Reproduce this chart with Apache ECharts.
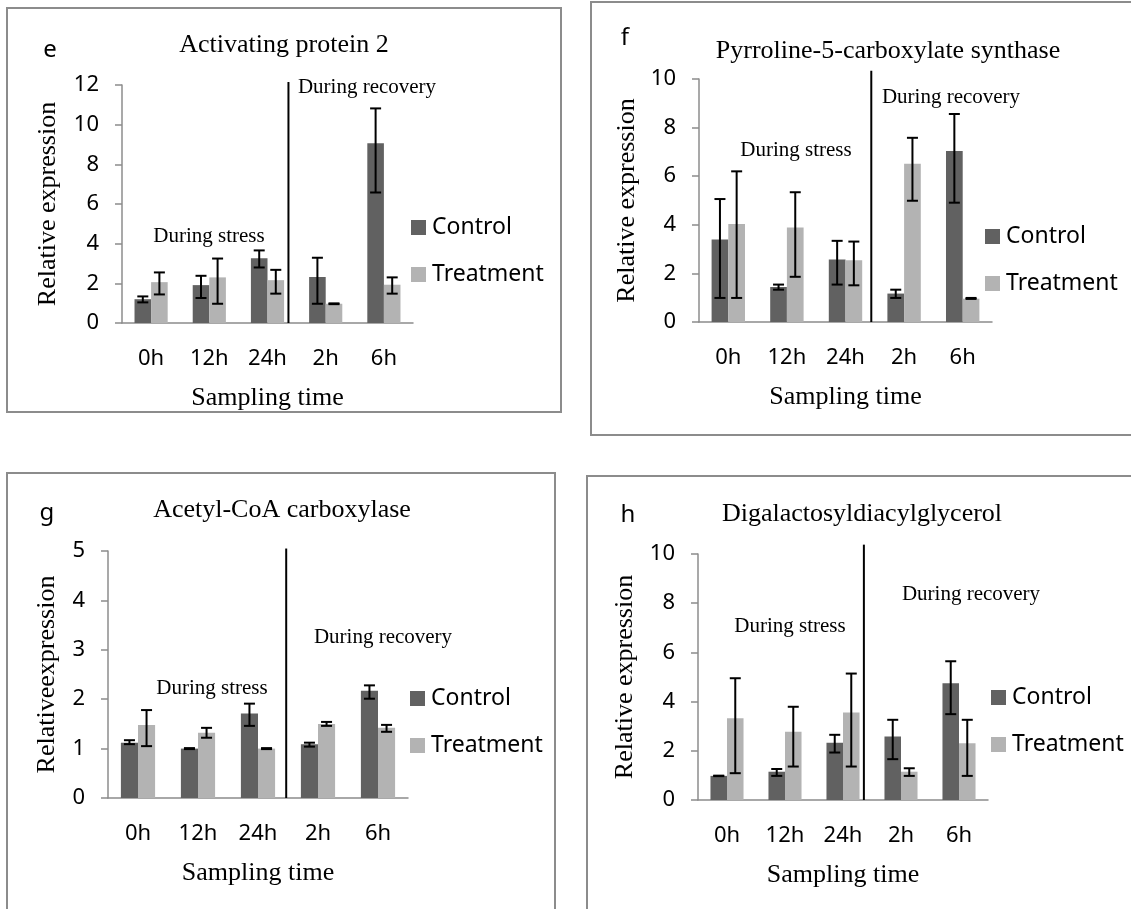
<!DOCTYPE html>
<html>
<head>
<meta charset="utf-8">
<script src="https://cdn.jsdelivr.net/npm/echarts@6/dist/echarts.min.js"></script>
<style>
html,body{margin:0;padding:0;background:#fff;}
#chart{width:1131px;height:909px;}
</style>
</head>
<body>
<div id="chart"></div>
<script>
// ---------- data ----------
const categories = ['0h', '12h', '24h', '2h', '6h'];
const seriesNames = ['Control', 'Treatment'];

// Panel e: Activating protein 2
const eControl     = [1.20, 1.91, 3.27, 2.32, 9.06];
const eControlLow  = [1.04, 1.26, 2.80, 0.97, 6.58];
const eControlHigh = [1.34, 2.38, 3.66, 3.29, 10.82];
const eTreat       = [2.06, 2.30, 2.16, 0.97, 1.93];
const eTreatLow    = [1.44, 0.97, 1.48, 0.95, 1.48];
const eTreatHigh   = [2.55, 3.25, 2.68, 0.99, 2.30];

// Panel f: Pyrroline-5-carboxylate synthase
const fControl     = [3.40, 1.44, 2.57, 1.17, 7.04];
const fControlLow  = [0.99, 1.33, 1.54, 0.99, 4.91];
const fControlHigh = [5.06, 1.54, 3.34, 1.33, 8.56];
const fTreat       = [4.03, 3.89, 2.54, 6.51, 0.96];
const fTreatLow    = [0.99, 1.86, 1.51, 4.99, 0.95];
const fTreatHigh   = [6.20, 5.34, 3.31, 7.58, 0.99];

// Panel g: Acetyl-CoA carboxylase
const gControl     = [1.12, 1.00, 1.71, 1.09, 2.17];
const gControlLow  = [1.09, 0.99, 1.46, 1.04, 2.01];
const gControlHigh = [1.17, 1.01, 1.91, 1.12, 2.28];
const gTreat       = [1.48, 1.32, 1.00, 1.50, 1.42];
const gTreatLow    = [1.05, 1.22, 0.99, 1.46, 1.34];
const gTreatHigh   = [1.78, 1.42, 1.01, 1.54, 1.48];

// Panel h: Digalactosyldiacylglycerol
const hControl     = [0.98, 1.15, 2.33, 2.58, 4.75];
const hControlLow  = [0.97, 0.98, 1.93, 1.66, 3.49];
const hControlHigh = [0.99, 1.26, 2.65, 3.26, 5.64];
const hTreat       = [3.32, 2.77, 3.56, 1.15, 2.31];
const hTreatLow    = [1.09, 1.36, 1.36, 0.98, 0.98];
const hTreatHigh   = [4.95, 3.79, 5.14, 1.29, 3.26];

// y-axis ranges / ticks
const yMax      = [12, 10, 5, 10];
const yInterval = [2, 2, 1, 2];

// divider (category units, 0..5) and its top value
const dividerX   = [2.86, 2.94, 2.97, 2.86];
const dividerTop = [12.15, 10.34, 5.05, 10.38];

// texts
const panelLetters = ['e', 'f', 'g', 'h'];
const panelTitles = ['Activating protein 2', 'Pyrroline-5-carboxylate synthase', 'Acetyl-CoA carboxylase', 'Digalactosyldiacylglycerol'];
const yNames = ['Relative expression', 'Relative expression', 'Relativeexpression', 'Relative expression'];
const xName = 'Sampling time';
const stressText = 'During stress';
const recoveryText = 'During recovery';

// ---------- layout (pixels) ----------
const layout = [
  {grid:{left:122, top:85, width:291, height:238}, box:[7,8,554,404], letter:[50,50], title:[284,45],
   stress:[209,236], recov:[367,87], legend:[411,216], yGap:61},
  {grid:{left:699, top:79, width:293, height:243}, box:[591,2,600,433], letter:[625,38], title:[888,51],
   stress:[796,150], recov:[951,97], legend:[985,225], yGap:59},
  {grid:{left:108, top:551, width:300, height:247}, box:[7,473,548,500], letter:[47,513], title:[282,510],
   stress:[212,688], recov:[383,637], legend:[410,687], yGap:48},
  {grid:{left:698, top:554, width:290, height:246}, box:[587,476,600,500], letter:[628,515], title:[862,514],
   stress:[790,626], recov:[971,594], legend:[991,686], yGap:60}
];

const panelData = [
  [eControl, eControlLow, eControlHigh, eTreat, eTreatLow, eTreatHigh],
  [fControl, fControlLow, fControlHigh, fTreat, fTreatLow, fTreatHigh],
  [gControl, gControlLow, gControlHigh, gTreat, gTreatLow, gTreatHigh],
  [hControl, hControlLow, hControlHigh, hTreat, hTreatLow, hTreatHigh]
];

const SANS = '"Noto Sans", sans-serif';
const SERIF = '"Liberation Serif", "Times New Roman", serif';
const CTRL_COLOR = '#616161';
const TRT_COLOR = '#b3b3b3';
const AXIS_COLOR = '#8c8c8c';
const CAT_GAP = 0.43;

function errRender(sign) {
  return function (params, api) {
    const i = api.value(0);
    const lo = api.coord([i, api.value(1)]);
    const hi = api.coord([i, api.value(2)]);
    const band = api.size([1, 0])[0];
    const bw = band * (1 - CAT_GAP) / 2;
    const x = lo[0] + sign * bw / 2;
    const cap = 5.5;
    const st = {stroke: '#000', lineWidth: 2};
    return {
      type: 'group',
      children: [
        {type: 'line', shape: {x1: x, y1: lo[1], x2: x, y2: hi[1]}, style: st},
        {type: 'line', shape: {x1: x - cap, y1: lo[1], x2: x + cap, y2: lo[1]}, style: st},
        {type: 'line', shape: {x1: x - cap, y1: hi[1], x2: x + cap, y2: hi[1]}, style: st}
      ]
    };
  };
}

const grids = [], xAxes = [], yAxes = [], series = [], legends = [], graphics = [];

layout.forEach((L, k) => {
  grids.push(Object.assign({containLabel: false}, L.grid));
  xAxes.push({
    type: 'category', gridIndex: k, data: categories,
    axisLine: {lineStyle: {color: AXIS_COLOR, width: 1.5}},
    axisTick: {show: false},
    axisLabel: {color: '#000', fontFamily: SANS, fontSize: 22, margin: 25},
    name: xName, nameLocation: 'middle', nameGap: 62,
    nameTextStyle: {color: '#000', fontFamily: SERIF, fontSize: 26}
  });
  xAxes.push({type: 'value', gridIndex: k, min: 0, max: 5, show: false});
  yAxes.push({
    type: 'value', gridIndex: k, min: 0, max: yMax[k], interval: yInterval[k],
    axisLine: {show: true, lineStyle: {color: AXIS_COLOR, width: 1.5}},
    axisTick: {show: true, length: 7, lineStyle: {color: AXIS_COLOR, width: 1.5}},
    splitLine: {show: false},
    axisLabel: {color: '#000', fontFamily: SANS, fontSize: 22, margin: 23},
    name: yNames[k], nameLocation: 'middle', nameGap: L.yGap, nameRotate: 90,
    nameTextStyle: {color: '#000', fontFamily: SERIF, fontSize: 26}
  });
  const d = panelData[k];
  series.push({
    name: 'Control', type: 'bar', xAxisIndex: 2 * k, yAxisIndex: k, data: d[0],
    barGap: '0%', barCategoryGap: (CAT_GAP * 100) + '%', itemStyle: {color: CTRL_COLOR}
  });
  series.push({
    name: 'Treatment', type: 'bar', xAxisIndex: 2 * k, yAxisIndex: k, data: d[3],
    barGap: '0%', barCategoryGap: (CAT_GAP * 100) + '%', itemStyle: {color: TRT_COLOR}
  });
  series.push({
    type: 'custom', xAxisIndex: 2 * k, yAxisIndex: k, renderItem: errRender(-1),
    data: categories.map((c, i) => [i, d[1][i], d[2][i]]), encode: {x: 0, y: [1, 2]}, z: 5, silent: true
  });
  series.push({
    type: 'custom', xAxisIndex: 2 * k, yAxisIndex: k, renderItem: errRender(1),
    data: categories.map((c, i) => [i, d[4][i], d[5][i]]), encode: {x: 0, y: [1, 2]}, z: 5, silent: true
  });
  series.push({
    type: 'line', xAxisIndex: 2 * k + 1, yAxisIndex: k, clip: false, symbol: 'none', silent: true,
    data: [[dividerX[k], 0], [dividerX[k], dividerTop[k]]],
    lineStyle: {color: '#000', width: 2}, z: 6
  });
  legends.push({
    left: L.legend[0], top: L.legend[1], orient: 'vertical', padding: 0,
    itemWidth: 15, itemHeight: 15, itemGap: 24, icon: 'rect',
    data: seriesNames, selectedMode: false,
    textStyle: {color: '#000', fontFamily: SANS, fontSize: 23, padding: [0, 0, 0, 1]}
  });
  graphics.push({
    type: 'rect', shape: {x: L.box[0], y: L.box[1], width: L.box[2], height: L.box[3]},
    style: {fill: 'none', stroke: AXIS_COLOR, lineWidth: 2}, silent: true, z: -1
  });
  graphics.push({type: 'text', x: L.letter[0], y: L.letter[1],
    style: {text: panelLetters[k], font: '24px ' + SANS, fill: '#000', textAlign: 'center', textVerticalAlign: 'middle'}});
  graphics.push({type: 'text', x: L.title[0], y: L.title[1],
    style: {text: panelTitles[k], font: '26px ' + SERIF, fill: '#000', textAlign: 'center', textVerticalAlign: 'middle'}});
  graphics.push({type: 'text', x: L.stress[0], y: L.stress[1],
    style: {text: stressText, font: '21px ' + SERIF, fill: '#000', textAlign: 'center', textVerticalAlign: 'middle'}});
  graphics.push({type: 'text', x: L.recov[0], y: L.recov[1],
    style: {text: recoveryText, font: '21px ' + SERIF, fill: '#000', textAlign: 'center', textVerticalAlign: 'middle'}});
});

const chart = echarts.init(document.getElementById('chart'), null, {renderer: 'canvas'});
chart.setOption({
  animation: false,
  backgroundColor: '#fff',
  grid: grids,
  xAxis: xAxes,
  yAxis: yAxes,
  legend: legends,
  series: series,
  graphic: graphics
});
</script>
</body>
</html>
